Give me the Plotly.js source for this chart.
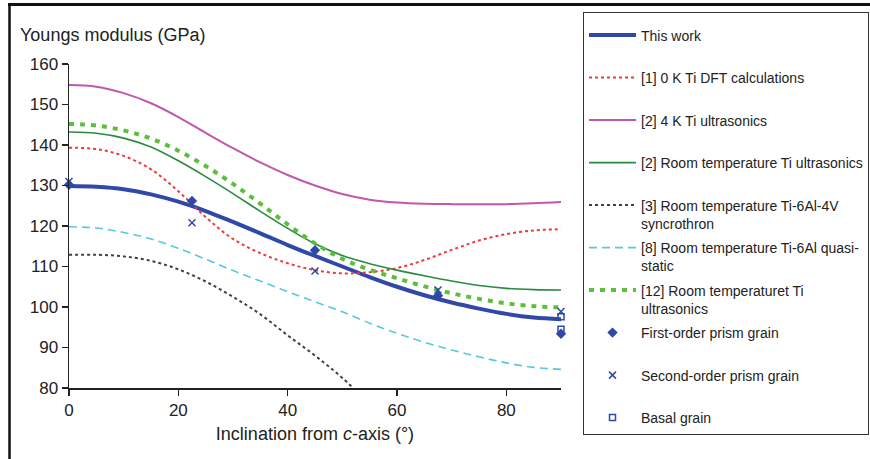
<!DOCTYPE html>
<html>
<head>
<meta charset="utf-8">
<script src="https://cdn.plot.ly/plotly-3.0.1.min.js"></script>
<style>html,body{margin:0;padding:0;background:#fff;}#chart{width:870px;height:459px;}</style>
</head>
<body>
<div id="chart"></div>
<script>
// Inclination angles (degrees from c-axis)
const angles = [0, 5, 10, 15, 20, 25, 30, 35, 40, 45, 50, 55, 60, 65, 70, 75, 80, 85, 90];

// Series values (GPa)
const thisWork   = [129.9, 129.7, 129.1, 127.8, 126, 123.7, 121, 118.2, 115.3, 112.6, 110, 107.4, 105, 102.9, 101.1, 99.6, 98.3, 97.4, 97];
const dft0K      = [139.3, 139, 137.3, 134, 128.6, 122.2, 116.8, 113.3, 110.8, 109.1, 108.3, 108.6, 109.6, 111.6, 114.1, 116.4, 118, 118.9, 119.2];
const ultra4K    = [154.8, 154.4, 152.8, 150.3, 146.9, 143, 139.2, 135.7, 132.6, 130, 127.9, 126.5, 125.8, 125.5, 125.4, 125.4, 125.4, 125.6, 125.9];
const ultraRT    = [143.2, 142.9, 141.7, 139.5, 136.1, 132.2, 128, 123.6, 119.4, 115.6, 112.7, 110.7, 109.1, 107.7, 106.4, 105.3, 104.6, 104.3, 104.2];
const tiAlV_angles = [0, 5, 10, 15, 20, 25, 30, 35, 40, 45, 50, 55];
const tiAlV      = [112.9, 112.9, 112.5, 111.4, 109.3, 106.3, 102.5, 98.2, 93, 88, 82.5, 76];
const tiAlQuasi  = [119.8, 119.5, 118.4, 116.8, 114.5, 111.8, 109, 106.4, 103.8, 101.3, 98.8, 96, 93.5, 91.3, 89.4, 87.7, 86.2, 85.1, 84.6];
const ultraRT12  = [145.2, 144.8, 143.6, 141.6, 138.6, 134.8, 130.4, 125.5, 120.4, 115.7, 111.9, 109.2, 107.1, 105.1, 103.4, 102, 100.9, 100.2, 99.9];

// Grain measurements
const firstX  = [0, 22.5, 45, 67.5, 90];
const firstY  = [130.2, 126.2, 114, 102.8, 93.4];
const secondX = [0, 22.5, 45, 67.5, 90];
const secondY = [131, 120.8, 108.9, 104.2, 98.9];
const basalX  = [90, 90];
const basalY  = [97.6, 94.5];

// Legend labels
const names = [
  "This work<br>&nbsp;",
  "[1] 0 K Ti DFT calculations<br>&nbsp;",
  "[2] 4 K Ti ultrasonics<br>&nbsp;",
  "[2] Room temperature Ti ultrasonics<br>&nbsp;",
  "[3] Room temperature Ti-6Al-4V<br>syncrothron",
  "[8] Room temperature Ti-6Al quasi-<br>static",
  "[12] Room temperaturet Ti<br>ultrasonics",
  "First-order prism grain<br>&nbsp;",
  "Second-order prism grain<br>&nbsp;",
  "Basal grain"
];

const blue = '#3048a8';
const sp = {shape: 'spline', smoothing: 1};
const traces = [
  {x: angles, y: thisWork, name: names[0], legendgroup: 'g0', mode: 'lines', line: Object.assign({color: blue, width: 4}, sp)},
  {x: angles, y: dft0K, name: names[1], legendgroup: 'g1', mode: 'lines', line: Object.assign({color: '#f03838', width: 2, dash: 'dot'}, sp)},
  {x: angles, y: ultra4K, name: names[2], legendgroup: 'g2', mode: 'lines', line: Object.assign({color: '#c058b0', width: 2}, sp)},
  {x: angles, y: ultraRT, name: names[3], legendgroup: 'g3', mode: 'lines', line: Object.assign({color: '#2a8a40', width: 1.6}, sp)},
  {x: tiAlV_angles, y: tiAlV, name: names[4], legendgroup: 'g4', mode: 'lines', line: Object.assign({color: '#404040', width: 2, dash: 'dot'}, sp)},
  {x: angles, y: tiAlQuasi, name: names[5], legendgroup: 'g5', mode: 'lines', line: Object.assign({color: '#58c8e0', width: 1.6, dash: '8px,5px'}, sp)},
  {x: angles, y: ultraRT12, name: names[6], legendgroup: 'g6', mode: 'lines', line: Object.assign({color: '#5cbf3c', width: 4, dash: '5px,6px'}, sp)},
  {x: firstX, y: firstY, name: names[7], legendgroup: 'g7', mode: 'markers', cliponaxis: false, marker: {symbol: 'diamond', size: 8, color: blue}},
  {x: secondX, y: secondY, name: names[8], legendgroup: 'g8', mode: 'markers', cliponaxis: false, marker: {symbol: 'x-thin', size: 7, color: blue, line: {color: blue, width: 1.5}}},
  {x: basalX, y: basalY, name: names[9], legendgroup: 'g9', mode: 'markers', cliponaxis: false, marker: {symbol: 'square-open', size: 6, color: blue, line: {width: 1.5}}}
];

// paper helpers (plot area: x 69..561, y 64..388)
const L = 69, R = 561, T = 64, B = 388;
const px = v => (v - L) / (R - L);
const py = v => (B - v) / (B - T);

const layout = {
  width: 870, height: 459,
  margin: {l: L, r: 870 - R, t: T, b: 459 - B, pad: 0, autoexpand: false},
  paper_bgcolor: '#fff', plot_bgcolor: '#fff',
  font: {family: 'Liberation Sans, Arial, sans-serif', color: '#222', size: 17},
  showlegend: true,
  title: {text: 'Youngs modulus (GPa)', font: {size: 18, color: '#222'}, xref: 'container', yref: 'container', x: 20/870, xanchor: 'left', y: 1 - 35/459, yanchor: 'middle'},
  xaxis: {
    range: [0, 90], dtick: 20, tick0: 0, showgrid: false, zeroline: false,
    showline: true, linecolor: '#222', linewidth: 1.5, ticks: 'outside', ticklen: 6, tickwidth: 1.5, tickcolor: '#222',
    tickfont: {size: 17},
    title: {text: 'Inclination from <i>c</i>-axis (°)', font: {size: 18}, standoff: 8}
  },
  yaxis: {
    range: [80, 160], dtick: 10, showgrid: false, zeroline: false,
    showline: true, linecolor: '#222', linewidth: 1.5, ticks: 'outside', ticklen: 6, tickwidth: 1.5, tickcolor: '#222',
    tickfont: {size: 17}
  },
  legend: {
    x: px(583), xanchor: 'left', y: py(12), yanchor: 'top',
    bordercolor: '#333', borderwidth: 1, bgcolor: '#fff', maxheight: 440,
    font: {size: 14, color: '#222'}, valign: 'top', tracegroupgap: 3.1, itemwidth: 47,
    title: {text: '&nbsp;', font: {size: 5}}
  },
  shapes: [
    {type: 'line', xref: 'paper', yref: 'paper', x0: px(8), x1: px(872), y0: py(4.5), y1: py(4.5), line: {color: '#111', width: 3}},
    {type: 'line', xref: 'paper', yref: 'paper', x0: px(9.5), x1: px(9.5), y0: py(4.5), y1: py(462), line: {color: '#111', width: 2.5}}
  ]
};

Plotly.newPlot('chart', traces, layout, {displayModeBar: false, staticPlot: true});
</script>
</body>
</html>
